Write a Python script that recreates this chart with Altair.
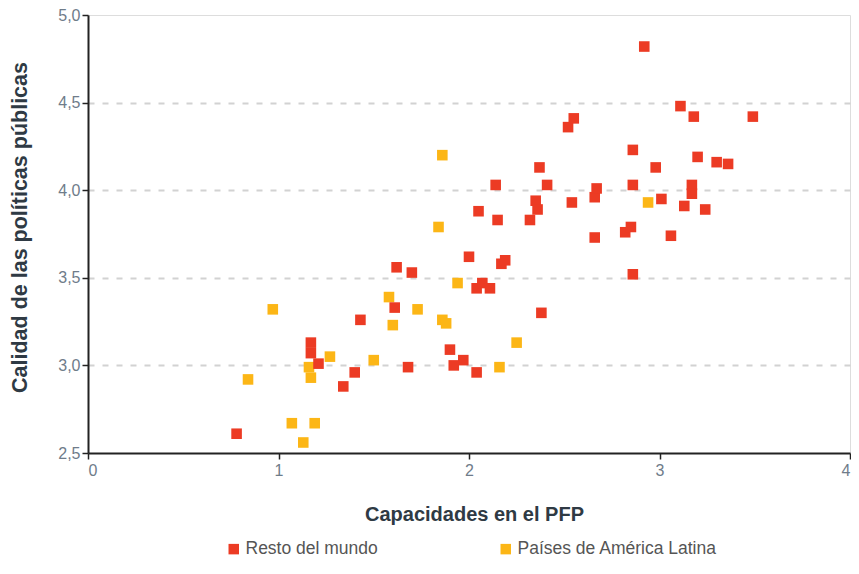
import altair as alt
import pandas as pd

# Resto del mundo
red_x = [0.78, 1.17, 1.17, 1.21, 1.34, 1.40, 1.43, 1.61, 1.62, 1.68, 1.70, 1.90, 1.92, 1.97,
         2.00, 2.04, 2.04, 2.07, 2.11, 2.05, 2.14, 2.15, 2.17, 2.19, 2.32, 2.35, 2.36, 2.37,
         2.38, 2.41, 2.52, 2.55, 2.54, 2.66, 2.67, 2.66, 2.82, 2.85, 2.86, 2.86, 2.86, 2.92,
         2.98, 3.01, 3.06, 3.11, 3.13, 3.17, 3.17, 3.18, 3.20, 3.24, 3.30, 3.36, 3.49]
red_y = [2.61, 3.13, 3.07, 3.01, 2.88, 2.96, 3.26, 3.33, 3.56, 2.99, 3.53, 3.09, 3.00, 3.03,
         3.62, 2.96, 3.44, 3.47, 3.44, 3.88, 4.03, 3.83, 3.58, 3.60, 3.83, 3.94, 3.89, 4.13,
         3.30, 4.03, 4.36, 4.41, 3.93, 3.96, 4.01, 3.73, 3.76, 3.79, 4.23, 4.03, 3.52, 4.82,
         4.13, 3.95, 3.74, 4.48, 3.91, 4.03, 3.98, 4.42, 4.19, 3.89, 4.16, 4.15, 4.42]

# Países de América Latina
yel_x = [0.84, 0.97, 1.07, 1.13, 1.16, 1.17, 1.19, 1.27, 1.50, 1.58, 1.60, 1.73, 1.84, 1.86,
         1.86, 1.88, 1.94, 2.16, 2.25, 2.94]
yel_y = [2.92, 3.32, 2.67, 2.56, 2.99, 2.93, 2.67, 3.05, 3.03, 3.39, 3.23, 3.32, 3.79, 4.20,
         3.26, 3.24, 3.47, 2.99, 3.13, 3.93]

groups = ["Resto del mundo", "Países de América Latina"]
colors = ["#EC3B24", "#FCB616"]

x_ticks = [0, 1, 2, 3, 4]
y_ticks = [2.5, 3.0, 3.5, 4.0, 4.5, 5.0]

df = pd.DataFrame({
    "x": yel_x + red_x,
    "y": yel_y + red_y,
    "grupo": [groups[1]] * len(yel_x) + [groups[0]] * len(red_x),
})

W, H = 762, 438
FONT = "Liberation Sans"
LABEL_COLOR = "#6f7c8a"
TITLE_COLOR = "#2f3a44"

chart = alt.Chart(df).mark_square(size=112, opacity=1).encode(
    x=alt.X(
        "x:Q",
        scale=alt.Scale(domain=[0, 4], nice=False, zero=False),
        axis=alt.Axis(
            values=x_ticks, format="d", grid=False,
            title="Capacidades en el PFP",
            titleX=386, titleY=61, titleAlign="center", titleBaseline="middle",
            domainColor="#222222", domainWidth=2,
            tickColor="#222222", tickWidth=1.5, tickSize=6,
            labelPadding=3, labelFontSize=16, labelColor=LABEL_COLOR, labelFont=FONT,
            titleFont=FONT, titleFontSize=20, titleFontWeight="bold", titleColor=TITLE_COLOR,
        ),
    ),
    y=alt.Y(
        "y:Q",
        scale=alt.Scale(domain=[2.5, 5.0], nice=False, zero=False),
        axis=alt.Axis(
            values=y_ticks,
            labelExpr="replace(format(datum.value, '.1f'), '.', ',')",
            grid=True, gridDash=[6, 8], gridColor="#d2d2d2", gridWidth=2,
            gridOpacity={"condition": {"test": "datum.value >= 5 || datum.value <= 2.5", "value": 0}, "value": 1},
            title="Calidad de las políticas públicas",
            titleX=-68, titleY=212, titleAlign="center", titleBaseline="middle", titleAngle=270,
            domainColor="#222222", domainWidth=2,
            tickColor="#222222", tickWidth=1.5, tickSize=6,
            labelPadding=2, labelFontSize=16, labelColor=LABEL_COLOR, labelFont=FONT,
            titleFont=FONT, titleFontSize=21.5, titleFontWeight="bold", titleColor=TITLE_COLOR,
        ),
    ),
    color=alt.Color(
        "grupo:N",
        scale=alt.Scale(domain=groups, range=colors),
        legend=alt.Legend(
            title=None, orient="none", legendX=137, legendY=525,
            direction="horizontal", columns=2, columnPadding=119,
            symbolType="square", symbolSize=110, symbolStrokeWidth=0,
            labelFont=FONT, labelFontSize=17.5, labelColor="#555555",
            labelOffset=3, labelLimit=400,
        ),
    ),
).properties(
    width=W, height=H,
    autosize=alt.AutoSizeParams(type="none"),
    padding={"left": 80, "top": 7, "right": 1, "bottom": 107},
).configure_view(stroke=None).configure(background="white")

chart.save("out.html", embed_options={"renderer": "svg", "actions": False})
